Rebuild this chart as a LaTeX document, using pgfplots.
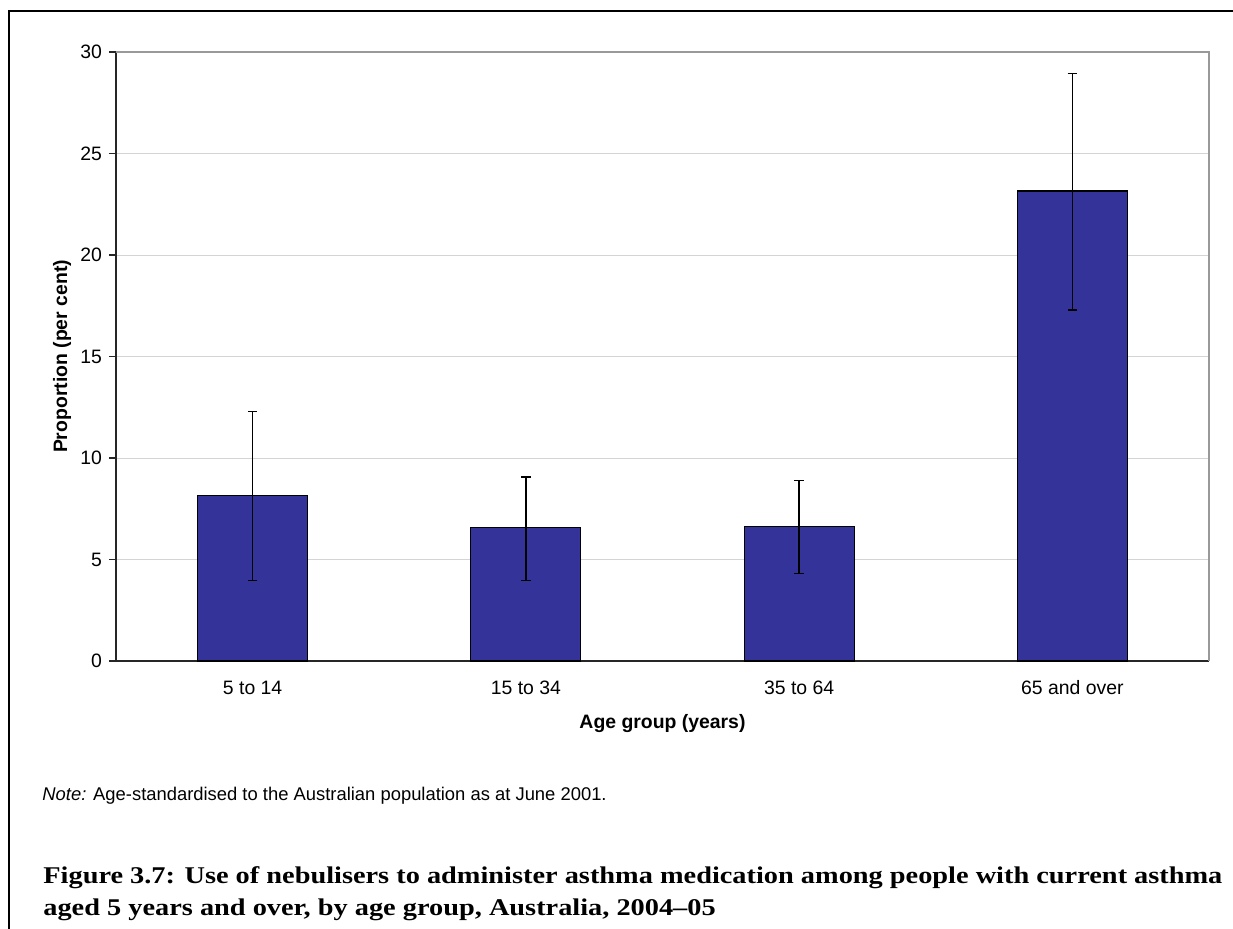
\documentclass[border=0pt]{standalone}
\usepackage{fontspec}
\setmainfont{Liberation Sans}
\newfontfamily\capfont[Ligatures=TeX]{Liberation Serif}
\usepackage{graphicx}
\usepackage{pgfplots}
\pgfplotsset{compat=1.18}
\definecolor{barblue}{HTML}{333399}
\definecolor{gridc}{HTML}{D4D4D4}

\begin{document}
\begin{tikzpicture}
\begin{axis}[
  at={(58pt,-330.5pt)}, anchor=south west,
  scale only axis, width=546.5pt, height=304.5pt,
  xmin=-0.5, xmax=3.5, ymin=0, ymax=30,
  axis x line*=bottom, axis y line*=left,
  axis line style={black!85, line width=0.65pt},
  ytick={0,5,...,30},
  ymajorgrids, grid style={gridc, line width=0.5pt},
  xtick={0,1,2,3},
  xticklabels={5 to 14, 15 to 34, 35 to 64, 65 and over},
  major x tick style={draw=none},
  extra x ticks={-0.5,0.5,1.5,2.5,3.5},
  extra x tick labels={},
  extra x tick style={major tick length=3pt, tick style={black!85, line width=0.6pt}, grid=none},
  tick align=outside,
  major y tick style={black!85, line width=0.6pt},
  major tick length=3.5pt,
  font=\fontsize{9.7pt}{11pt}\selectfont,
  /pgf/number format/assume math mode=true,
  yticklabel style={font=\fontsize{9.7pt}{11pt}\selectfont},
  xticklabel style={font=\fontsize{9.7pt}{11pt}\selectfont, text height=7.2pt, text depth=0pt, yshift=-2.5pt},
  xlabel={\bfseries Age group (years)},
  ylabel={\bfseries Proportion (per cent)},
  xlabel style={at={(axis description cs:0.5,-0.102)}, anchor=center, font=\fontsize{9.7pt}{11pt}\selectfont},
  ylabel style={at={(axis description cs:-0.0494,0.5)}, anchor=center, font=\fontsize{9.7pt}{11pt}\selectfont},
  clip=false,
]
\draw[gray!80, line width=0.6pt] (rel axis cs:0,1) -- (rel axis cs:1,1) -- (rel axis cs:1,0);
\addplot[ybar, bar width=55pt, fill=barblue, draw=black, line width=0.6pt,
  error bars/.cd, y dir=both, y explicit,
  error bar style={black, line width=0.7pt},
  error mark=-,
  error mark options={rotate=90, black, mark size=2.4pt, line width=0.7pt}]
  coordinates {
    (0,8.16)  += (0,4.12) -= (0,4.18)
    (1,6.56)  += (0,2.50) -= (0,2.58)
    (2,6.61)  += (0,2.27) -= (0,2.30)
    (3,23.15) += (0,5.78) -= (0,5.86)
  };
\end{axis}
\begin{scope}[x=0.5pt,y=-0.5pt]
\useasboundingbox (0,0) rectangle (1233,928);
\draw[line width=1.15pt] (9,930) -- (9,11) -- (1235,11);
\node[anchor=base west, inner sep=0, font=\fontsize{9.2pt}{11pt}\selectfont] at (42,800)
  {\textit{Note:} Age-standardised to the Australian population as at June 2001.};
\node[anchor=base west, inner sep=0] at (43,915)
  {\capfont\bfseries\fontsize{12pt}{16pt}\selectfont\resizebox{589.5pt}{\height}{\begin{tabular}[b]{@{}l@{}}Figure 3.7: Use of nebulisers to administer asthma medication among people with current asthma\\aged 5 years and over, by age group, Australia, 2004–05\end{tabular}}};
\end{scope}
\end{tikzpicture}
\end{document}
